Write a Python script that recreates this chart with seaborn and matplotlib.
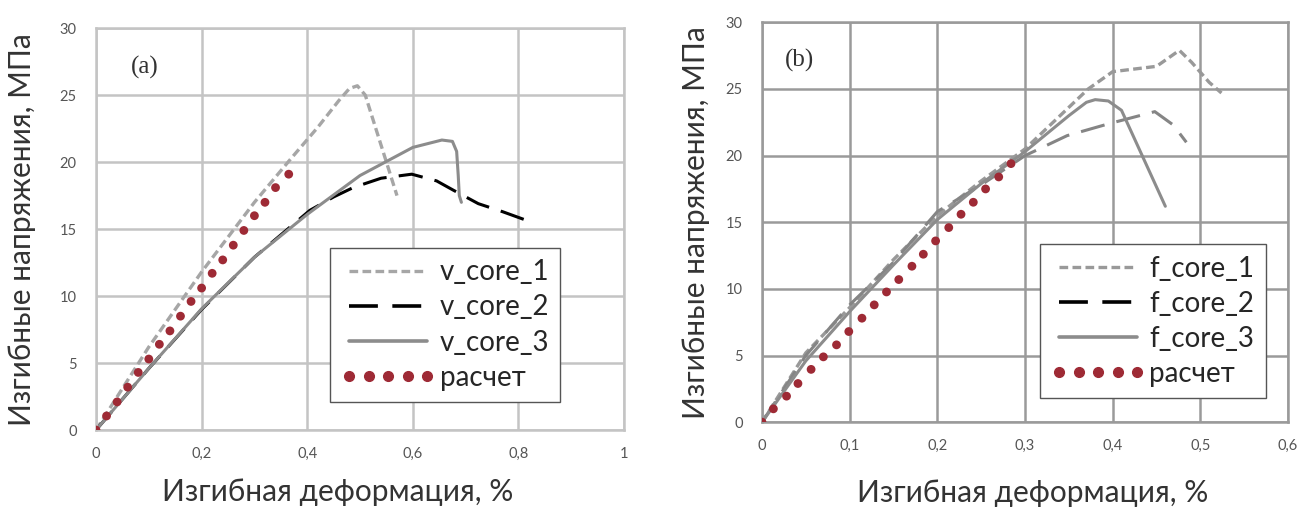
import matplotlib
matplotlib.use("Agg")
import matplotlib.pyplot as plt
import seaborn as sns
from matplotlib.lines import Line2D
from matplotlib.ticker import FuncFormatter

# panel (a) data
v1_x = [0, 0.1, 0.2, 0.3, 0.37, 0.42, 0.46, 0.48, 0.495, 0.51, 0.53, 0.55, 0.57]
v1_y = [0, 6.2, 11.8, 17.0, 20.3, 22.6, 24.6, 25.5, 25.7, 25.0, 22.5, 20.0, 17.5]
v2_x = [0, 0.1, 0.2, 0.3, 0.405, 0.45, 0.487, 0.54, 0.598, 0.645, 0.677, 0.724, 0.77, 0.819]
v2_y = [0, 4.6, 9.0, 12.9, 16.4, 17.4, 18.1, 18.8, 19.1, 18.6, 17.9, 16.9, 16.3, 15.6]
v3_x = [0, 0.1, 0.2, 0.3, 0.4, 0.5, 0.6, 0.655, 0.675, 0.683, 0.686, 0.688, 0.692]
v3_y = [0, 4.6, 9.05, 12.9, 16.1, 19.0, 21.1, 21.65, 21.55, 20.8, 19.0, 17.5, 17.0]
ra_x = [0, 0.02, 0.04, 0.06, 0.08, 0.10, 0.12, 0.14, 0.16, 0.18, 0.20, 0.22, 0.24,
        0.26, 0.28, 0.30, 0.32, 0.34, 0.365]
ra_y = [0, 1.05, 2.1, 3.2, 4.3, 5.3, 6.4, 7.4, 8.5, 9.6, 10.6, 11.7, 12.7,
        13.8, 14.9, 16.0, 17.0, 18.1, 19.1]

# panel (b) data
f1_x = [0, 0.05, 0.1, 0.15, 0.2, 0.25, 0.3, 0.348, 0.372, 0.4, 0.45, 0.476, 0.49, 0.51, 0.524]
f1_y = [0, 5.2, 8.6, 12.2, 15.5, 18.1, 20.5, 23.5, 25.0, 26.3, 26.7, 27.9, 27.0, 25.5, 24.7]
f2_x = [0, 0.05, 0.1, 0.15, 0.2, 0.25, 0.3, 0.348, 0.396, 0.448, 0.469, 0.484]
f2_y = [0, 5.0, 8.8, 12.0, 15.8, 17.8, 20.0, 21.5, 22.4, 23.3, 22.3, 21.0]
f3_x = [0, 0.05, 0.1, 0.15, 0.2, 0.25, 0.3, 0.35, 0.37, 0.38, 0.395, 0.41, 0.435, 0.46]
f3_y = [0, 4.6, 8.3, 11.8, 15.2, 17.9, 20.3, 23.0, 24.0, 24.2, 24.1, 23.4, 19.8, 16.2]
rb_x = [0, 0.013, 0.028, 0.041, 0.056, 0.07, 0.085, 0.099, 0.114, 0.128, 0.142,
        0.156, 0.171, 0.184, 0.198, 0.213, 0.227, 0.241, 0.255, 0.27, 0.284]
rb_y = [0, 1.0, 1.95, 2.9, 3.96, 4.9, 5.8, 6.8, 7.8, 8.8, 9.77,
        10.7, 11.7, 12.6, 13.6, 14.6, 15.6, 16.5, 17.5, 18.4, 19.4]

sns.set_style("white")
plt.rcParams['font.family'] = ['Lato', 'DejaVu Sans']

LIGHT = '#a6a6a6'
MID = '#8c8c8c'
RED = '#9e2a35'

fig = plt.figure(figsize=(12.99, 5.08), dpi=100)
ax1 = fig.add_axes([0.0739, 0.1535, 0.4065, 0.791])
ax2 = fig.add_axes([0.5866, 0.169, 0.405, 0.787])

comma = FuncFormatter(lambda v, p: ('%g' % round(v, 2)).replace('.', ','))


def style_axes(ax, xmax, xstep, gridc, ylab_x, xlab_xy):
    ax.set_xlim(0, xmax)
    ax.set_ylim(0, 30)
    ax.set_xticks([i * xstep for i in range(int(round(xmax / xstep)) + 1)])
    ax.set_yticks(range(0, 31, 5))
    ax.xaxis.set_major_formatter(comma)
    ax.grid(True, color=gridc, linewidth=1.8)
    for s in ax.spines.values():
        s.set_color(gridc)
        s.set_linewidth(1.8)
    ax.tick_params(axis='both', length=0, labelsize=10.5, colors='#555555')
    ax.tick_params(axis='x', pad=12)
    ax.tick_params(axis='y', pad=14)
    ax.set_xlabel('Изгибная деформация, %', fontsize=21.5, color='#333333')
    ax.set_ylabel('Изгибные напряжения, МПа', fontsize=21.5, color='#333333')
    ax.xaxis.label.set_va('center')
    ax.yaxis.label.set_va('center')
    ax.xaxis.set_label_coords(*xlab_xy)
    ax.yaxis.set_label_coords(ylab_x, 0.5)


def draw(ax, c1, c2, c3, r, lcol, c2color):
    sns.lineplot(x=c1[0], y=c1[1], ax=ax, color=lcol, lw=2.4, sort=False,
                 estimator=None).lines[-1].set_dashes((2.6, 1.3))
    sns.lineplot(x=c2[0], y=c2[1], ax=ax, color=c2color, lw=2.2, sort=False,
                 estimator=None).lines[-1].set_dashes((8, 4))
    sns.lineplot(x=c3[0], y=c3[1], ax=ax, color=MID, lw=2.2, sort=False,
                 estimator=None)
    sns.scatterplot(x=r[0], y=r[1], ax=ax, color=RED, s=40, edgecolor='none', zorder=5)
    handles = [
        Line2D([], [], color=lcol, lw=2.4, dashes=(2.6, 1.3)),
        Line2D([], [], color='black', lw=2.6, dashes=(8, 4)),
        Line2D([], [], color=MID, lw=2.6),
        Line2D([], [], color=RED, marker='o', ls='none', markersize=7),
    ]
    return handles


def add_legend(ax, handles, labels, anchor):
    ax.legend(handles, labels, loc='lower left', bbox_to_anchor=anchor,
              fontsize=20, handlelength=3.4, handletextpad=0.15, numpoints=5,
              labelspacing=0.33, frameon=True, fancybox=False,
              edgecolor='#555555', borderpad=0.4, borderaxespad=0,
              framealpha=1)


h1 = draw(ax1, (v1_x, v1_y), (v2_x, v2_y), (v3_x, v3_y), (ra_x, ra_y),
          LIGHT, 'black')
add_legend(ax1, h1, ['v_core_1', 'v_core_2', 'v_core_3', 'расчет'], (0.443, 0.07))
style_axes(ax1, 1.0, 0.2, '#c4c4c4', -0.140, (0.458, -0.154))
ax1.text(0.093, 0.903, '(a)', transform=ax1.transAxes, fontsize=18,
         ha='center', va='center', family=['Liberation Serif'], color='#333333')

h2 = draw(ax2, (f1_x, f1_y), (f2_x, f2_y), (f3_x, f3_y), (rb_x, rb_y),
          '#999999', '#858585')
add_legend(ax2, h2, ['f_core_1', 'f_core_2', 'f_core_3', 'расчет'], (0.528, 0.06))
style_axes(ax2, 0.6, 0.1, '#9a9a9a', -0.125, (0.515, -0.178))
ax2.text(0.072, 0.905, '(b)', transform=ax2.transAxes, fontsize=18,
         ha='center', va='center', family=['Liberation Serif'], color='#333333')

fig.savefig('out.png', dpi=100, facecolor='white')
